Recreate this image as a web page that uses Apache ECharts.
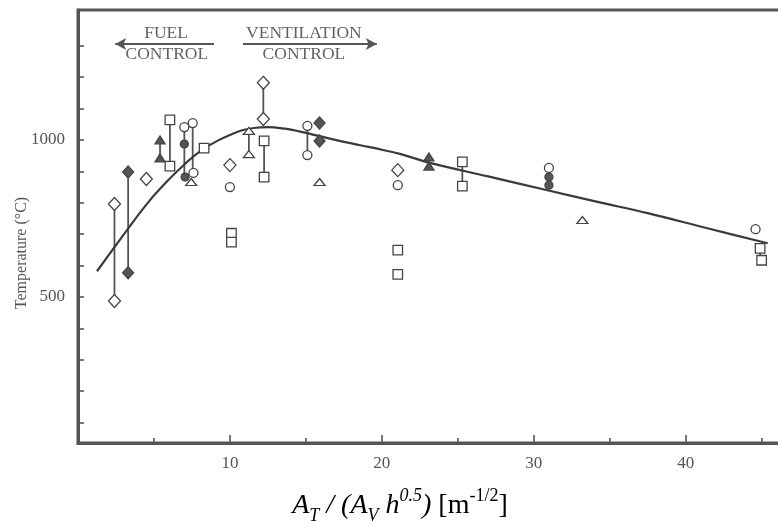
<!DOCTYPE html>
<html>
<head>
<meta charset="utf-8">
<title>Compartment fire temperature vs opening factor</title>
<script src="https://cdn.jsdelivr.net/npm/echarts@6/dist/echarts.min.js"></script>
<style>
  html, body { margin: 0; padding: 0; background: #fff; }
  #chart { width: 778px; height: 521px; }
</style>
</head>
<body>
<div id="chart"></div>
<script>
// Measured gas temperatures [A_T/(A_V h^0.5), °C], grouped by test series marker
const openDiamonds   = [[2.4, 796], [2.4, 487], [4.5, 876], [10.0, 920], [12.2, 1182], [12.2, 1067], [21.05, 904]];
const filledDiamonds = [[3.3, 898], [3.3, 577], [15.9, 1054], [15.9, 997]];
const openCircles    = [[7.0, 1041], [7.55, 1054], [7.6, 895], [10.0, 850], [15.1, 1045], [15.1, 952], [21.05, 856], [31.0, 911], [44.6, 716]];
const filledCircles  = [[7.0, 987], [7.05, 882], [31.0, 882], [31.0, 856]];
const openSquares    = [[6.05, 1064], [6.05, 917], [8.3, 974], [10.1, 703], [10.1, 675], [12.25, 997], [12.25, 882], [21.05, 649], [21.05, 572], [25.3, 930], [25.3, 853], [44.9, 655], [45.0, 617]];
const openTriangles  = [[7.45, 866], [11.25, 1029], [11.25, 955], [15.9, 866], [33.2, 745]];
const filledTriangles = [[5.4, 1000], [5.4, 943], [23.1, 946], [23.1, 917]];

// Scatter ranges joined by a vertical bar: [x, upper °C, lower °C]
const rangeBars = [
  [2.4, 796, 487], [3.3, 898, 577], [5.4, 1000, 943], [6.05, 1064, 917],
  [7.0, 1041, 882], [7.55, 1054, 895], [11.25, 1029, 955], [12.2, 1182, 1067],
  [12.25, 997, 882], [15.1, 1045, 952], [23.1, 946, 917], [25.3, 930, 853],
  [31.0, 911, 856], [44.9, 655, 617]
];

// Trend curve through the data
const trendCurve = [
  [1.25, 582], [2.3, 652], [3.3, 718], [4.7, 806], [5.9, 870], [7.0, 922],
  [8.1, 966], [9.2, 998], [10.0, 1016], [10.8, 1031], [11.7, 1039], [12.5, 1041],
  [13.6, 1036], [14.7, 1026], [16.8, 1002], [18.5, 984], [20.0, 969], [21.25, 955],
  [23.1, 928], [27.0, 884], [30.9, 840], [34.2, 803], [37.5, 767], [41.5, 718], [45.4, 671]
];

// Regime labels and arrows
const fuelArrow = [[2.45, 1306], [8.95, 1306]];
const ventArrow = [[10.86, 1306], [19.67, 1306]];
const regimeLabels = [
  { text: 'FUEL', at: [5.8, 1341] },
  { text: 'CONTROL', at: [5.85, 1271] },
  { text: 'VENTILATION', at: [14.87, 1341] },
  { text: 'CONTROL', at: [14.87, 1271] }
];

const yTickValues = [100, 200, 300, 400, 500, 600, 700, 800, 900, 1000, 1100, 1200, 1300];
const yLabelValues = [500, 1000];

const serif = '"Liberation Serif", "DejaVu Serif", serif';

function markerSeries(name, data, symbol, size, filled) {
  return {
    name: name,
    type: 'scatter',
    data: data,
    symbol: symbol,
    symbolSize: size,
    z: 5,
    itemStyle: {
      color: filled ? '#555' : '#fff',
      borderColor: '#444',
      borderWidth: 1.3,
      opacity: 1
    },
    emphasis: { disabled: true }
  };
}

const chart = echarts.init(document.getElementById('chart'), null, { renderer: 'canvas' });

chart.setOption({
  animation: false,
  backgroundColor: '#fff',
  grid: {
    left: 78, top: 10, width: 714, height: 433,
    outerBoundsMode: 'none',
    containLabel: false,
    show: true, borderColor: '#555', borderWidth: 3
  },
  xAxis: {
    type: 'value',
    min: 0, max: 47, interval: 10,
    name: '{i|A}{isub|T}{i| / (A}{isub|V}{i| h}{isup|0.5}{i|)}{r| [m}{rsup|-1/2}{r|]}',
    nameLocation: 'middle',
    nameGap: 44,
    nameTextStyle: {
      padding: [0, 70, 0, 0],
      rich: {
        i:    { fontFamily: serif, fontStyle: 'italic', fontSize: 28, color: '#000', lineHeight: 38, verticalAlign: 'middle' },
        isub: { fontFamily: serif, fontStyle: 'italic', fontSize: 18, color: '#000', lineHeight: 18, verticalAlign: 'bottom' },
        isup: { fontFamily: serif, fontStyle: 'italic', fontSize: 18, color: '#000', lineHeight: 18, verticalAlign: 'top' },
        r:    { fontFamily: serif, fontSize: 28, color: '#000', lineHeight: 38, verticalAlign: 'middle' },
        rsup: { fontFamily: serif, fontSize: 18, color: '#000', lineHeight: 18, verticalAlign: 'top' }
      }
    },
    axisLine: { show: true, lineStyle: { color: '#555', width: 3 } },
    axisTick: { show: true, inside: true, length: 8, lineStyle: { color: '#555', width: 1.6 } },
    minorTick: { show: true, splitNumber: 2, length: 5, lineStyle: { color: '#555', width: 1.6 } },
    axisLabel: { showMinLabel: false, showMaxLabel: false, margin: 12, fontFamily: serif, fontSize: 17, color: '#555' },
    splitLine: { show: false },
    minorSplitLine: { show: false }
  },
  yAxis: {
    type: 'value',
    min: 35, max: 1414,
    axisLine: { show: true, lineStyle: { color: '#555', width: 3 } },
    axisTick: { show: true, inside: true, length: 6, customValues: yTickValues, lineStyle: { color: '#555', width: 1.6 } },
    axisLabel: {
      customValues: yLabelValues,
      formatter: function (v) { return String(v); },
      margin: 13, fontFamily: serif, fontSize: 17, color: '#555'
    },
    splitLine: { show: false }
  },
  graphic: [{
    type: 'text',
    x: 22, y: 253,
    rotation: Math.PI / 2,
    style: {
      text: 'Temperature (°C)',
      font: '16px ' + serif,
      fill: '#555',
      align: 'center',
      verticalAlign: 'middle'
    }
  }],
  series: [
    {
      name: 'ranges',
      type: 'custom',
      data: rangeBars,
      z: 2,
      silent: true,
      renderItem: function (params, api) {
        const top = api.coord([api.value(0), api.value(1)]);
        const bottom = api.coord([api.value(0), api.value(2)]);
        return {
          type: 'line',
          shape: { x1: top[0], y1: top[1], x2: bottom[0], y2: bottom[1] },
          style: { stroke: '#555', lineWidth: 1.8 }
        };
      }
    },
    {
      name: 'trend',
      type: 'line',
      data: trendCurve,
      smooth: 0.4,
      showSymbol: false,
      z: 3,
      silent: true,
      lineStyle: { color: '#3a3a3a', width: 2.2 },
      markLine: {
        silent: true,
        symbolSize: [9, 11],
        lineStyle: { color: '#555', width: 2, type: 'solid' },
        label: { show: false },
        data: [
          [{ coord: fuelArrow[0], symbol: 'arrow' }, { coord: fuelArrow[1], symbol: 'none' }],
          [{ coord: ventArrow[0], symbol: 'none' }, { coord: ventArrow[1], symbol: 'arrow' }]
        ]
      }
    },
    markerSeries('open diamond', openDiamonds, 'diamond', [12, 13], false),
    markerSeries('filled diamond', filledDiamonds, 'diamond', [11, 12], true),
    markerSeries('open circle', openCircles, 'circle', 9, false),
    markerSeries('filled circle', filledCircles, 'circle', 8, true),
    markerSeries('open square', openSquares, 'rect', 9.5, false),
    markerSeries('open triangle', openTriangles, 'triangle', [11, 7], false),
    markerSeries('filled triangle', filledTriangles, 'triangle', [10, 8], true),
    {
      name: 'regime labels',
      type: 'scatter',
      data: regimeLabels.map(function (d) { return { value: d.at, name: d.text }; }),
      symbolSize: 0,
      silent: true,
      z: 6,
      label: {
        show: true,
        position: 'inside',
        formatter: '{b}',
        fontFamily: serif,
        fontSize: 17.5,
        color: '#3a3a3a'
      }
    }
  ]
});
</script>
</body>
</html>
